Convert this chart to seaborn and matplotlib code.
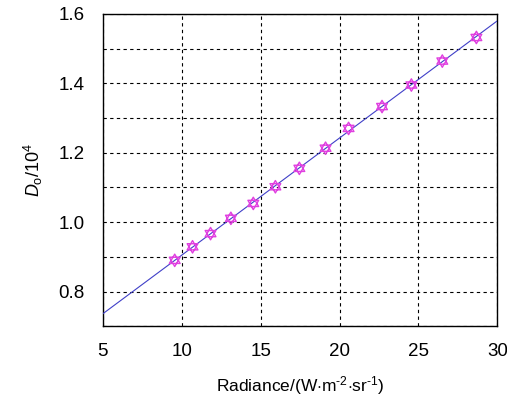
import numpy as np
import pandas as pd
import matplotlib
matplotlib.use('Agg')
import matplotlib.pyplot as plt
import seaborn as sns
from matplotlib.path import Path
from matplotlib.ticker import MultipleLocator

# valores
radiance = [9.55, 10.68, 11.82, 13.11, 14.53, 15.93, 17.45, 19.11, 20.57,
            22.69, 24.55, 26.51, 28.67]
d_o = [0.890, 0.929, 0.967, 1.011, 1.054, 1.102, 1.155, 1.213, 1.270,
       1.333, 1.395, 1.464, 1.532]
fit_range = [5, 30]

df = pd.DataFrame({'radiance': radiance, 'd_o': d_o})

# ajuste lineal
slope, intercept = np.polyfit(df['radiance'], df['d_o'], 1)
fit = pd.DataFrame({'radiance': fit_range})
fit['d_o'] = slope * fit['radiance'] + intercept

# marcador estrella de seis puntas (dos triangulos)
ang_up = np.deg2rad([90, 210, 330, 90])
ang_dn = np.deg2rad([270, 30, 150, 270])
verts = list(zip(np.cos(ang_up), np.sin(ang_up))) + list(zip(np.cos(ang_dn), np.sin(ang_dn)))
codes = [Path.MOVETO, Path.LINETO, Path.LINETO, Path.CLOSEPOLY] * 2
hexagram = Path(verts, codes)

sns.set_style('white')
plt.rcParams['font.family'] = ['Liberation Sans', 'DejaVu Sans']
plt.rcParams['mathtext.fontset'] = 'custom'
plt.rcParams['mathtext.it'] = 'Liberation Sans:italic'
plt.rcParams['mathtext.rm'] = 'Liberation Sans'
plt.rcParams['text.color'] = 'black'
plt.rcParams['axes.labelcolor'] = 'black'
plt.rcParams['xtick.color'] = 'black'
plt.rcParams['ytick.color'] = 'black'

fig, ax = plt.subplots(figsize=(5.07, 3.96), dpi=100)
fig.subplots_adjust(left=0.203, right=0.981, top=0.965, bottom=0.176)

sns.lineplot(data=fit, x='radiance', y='d_o', color='#4040c8', lw=0.8, ax=ax, zorder=3)
sns.scatterplot(data=df, x='radiance', y='d_o', marker=hexagram, s=80,
                facecolor='none', edgecolor='#e040e0', linewidth=1.0, ax=ax, zorder=4)

ax.set_xlim(5, 30)
ax.set_ylim(0.7, 1.6)
ax.xaxis.set_major_locator(MultipleLocator(5))
ax.yaxis.set_minor_locator(MultipleLocator(0.1))
ax.set_yticks([0.8, 1.0, 1.2, 1.4, 1.6])
ax.set_yticklabels(['0.8', '1.0', '1.2', '1.4', '1.6'])
ax.grid(True, which='major', axis='x', color='black', ls=(0, (3, 3)), lw=0.8)
ax.grid(True, which='both', axis='y', color='black', ls=(0, (3, 3)), lw=0.8)
ax.tick_params(axis='both', which='both', length=0, labelsize=13.5)
ax.tick_params(axis='y', pad=13)
ax.tick_params(axis='x', pad=12)
for s in ax.spines.values():
    s.set_color('black')
    s.set_linewidth(1.0)

ax.set_xlabel('Radiance/(W$\\cdot$m$^{\u20102}$$\\cdot$sr$^{\u20101}$)',
              fontsize=12.5, labelpad=10)
ax.set_ylabel(r'$D_{\mathrm{o}}$/10$^{4}$', fontsize=13, labelpad=10)

fig.savefig('out.png', dpi=100)
